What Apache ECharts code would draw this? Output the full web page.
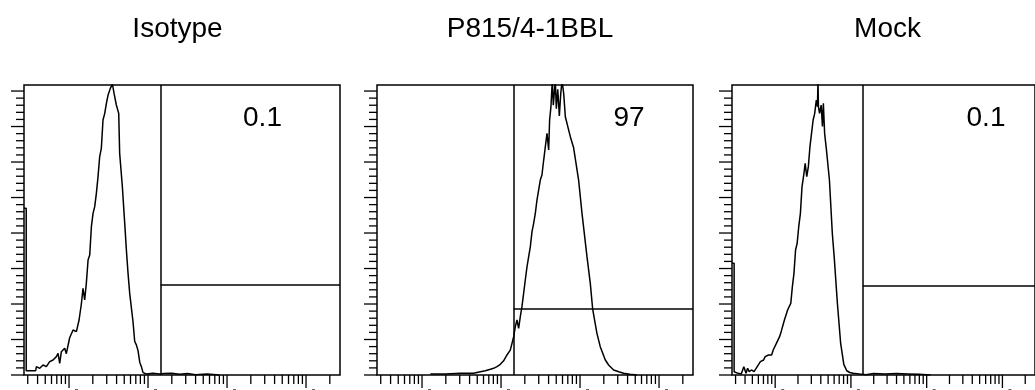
<!DOCTYPE html>
<html><head><meta charset="utf-8">
<script src="https://cdn.jsdelivr.net/npm/echarts@6/dist/echarts.min.js"></script>
<style>html,body{margin:0;padding:0;background:#fff}#c{width:1035px;height:390px}</style>
</head><body><div id="c"></div>
<script>
// ---- data ----
const panelTitles = ['Isotype', 'P815/4-1BBL', 'Mock'];
const gatePercents = ['0.1', '97', '0.1'];
const gateLog = 2.16;                       // log10 intensity of gate
const markerLevels = [2.535, 1.86, 2.51];   // marker bar heights
const xRange = [0.43, 4.43];                // log10 intensity shown
const yRange = [0, 8.17];
const xMajorTicks = [10, 100, 1000, 10000];
const xMinorTicks = [3,4,5,6,7,8,9, 20,30,40,50,60,70,80,90, 200,300,400,500,600,700,800,900,
                     2000,3000,4000,5000,6000,7000,8000,9000, 20000];
const yMajorTicks = [0,1,2,3,4,5,6,7,8];
const yMinorTicks = [0.2,0.4,0.6,0.8, 1.2,1.4,1.6,1.8, 2.2,2.4,2.6,2.8, 3.2,3.4,3.6,3.8,
                     4.2,4.4,4.6,4.8, 5.2,5.4,5.6,5.8, 6.2,6.4,6.6,6.8, 7.2,7.4,7.6,7.8];

const isotypeHist = [[0.43,4.70],[0.458,4.70],[0.458,0.12],[0.578,0.12],[0.587,0.235],[0.629,0.188],[0.671,0.282],[0.713,0.235],[0.755,0.376],[0.798,0.423],[0.84,0.517],[0.861,0.61],[0.882,0.329],[0.903,0.657],[0.945,0.751],[0.966,0.6],[1.008,1.05],[1.051,1.268],[1.093,1.221],[1.127,1.55],[1.156,2.0],[1.177,2.441],[1.198,2.113],[1.219,2.582],[1.241,3.24],[1.262,3.38],[1.283,4.178],[1.304,4.554],[1.325,4.742],[1.346,5.117],[1.367,5.587],[1.388,6.15],[1.409,6.385],[1.43,7.183],[1.452,7.371],[1.473,7.653],[1.494,7.887],[1.523,8.075],[1.549,8.2],[1.57,7.934],[1.599,7.606],[1.629,7.371],[1.641,6.244],[1.675,5.305],[1.705,4.272],[1.726,3.521],[1.747,2.864],[1.768,2.3],[1.789,1.9],[1.81,1.5],[1.831,0.95],[1.852,0.85],[1.874,0.68],[1.895,0.36],[1.916,0.235],[1.937,0.066],[1.979,0.03],[2.063,0.05],[2.148,0.03],[2.2,0.04],[2.3,0.05],[2.4,0.02],[2.5,0.04],[2.6,0.01],[2.75,0.03],[2.9,0]];

const p815Hist = [[1.105,0.028],[1.3,0.03],[1.484,0.047],[1.653,0.047],[1.738,0.094],[1.801,0.122],[1.865,0.16],[1.906,0.188],[1.949,0.235],[1.991,0.3],[2.033,0.4],[2.075,0.564],[2.117,0.7],[2.139,0.892],[2.16,1.08],[2.181,1.362],[2.202,1.55],[2.223,1.315],[2.244,1.643],[2.265,1.925],[2.286,2.3],[2.307,2.676],[2.329,3.052],[2.371,3.615],[2.392,4.038],[2.413,4.272],[2.434,4.554],[2.455,4.93],[2.476,5.211],[2.497,5.493],[2.518,5.634],[2.54,6.056],[2.561,6.432],[2.582,6.808],[2.603,6.338],[2.615,7.183],[2.632,7.559],[2.649,8.3],[2.662,7.6],[2.687,8.3],[2.7,7.5],[2.718,8.05],[2.738,7.3],[2.755,7.9],[2.772,8.3],[2.793,7.934],[2.814,7.277],[2.835,7.089],[2.877,6.714],[2.919,6.4],[2.982,5.493],[3.025,4.554],[3.088,3.334],[3.13,2.582],[3.16,1.859],[3.214,1.174],[3.256,0.798],[3.32,0.423],[3.362,0.282],[3.425,0.141],[3.49,0.09],[3.552,0.047],[3.63,0.02],[3.721,0]];

const mockHist = [[0.43,3.15],[0.458,3.15],[0.458,0.09],[0.51,0.047],[0.552,0.028],[0.586,0.235],[0.615,0.047],[0.636,0.188],[0.657,0.094],[0.687,0.141],[0.721,0.094],[0.763,0.235],[0.805,0.376],[0.847,0.423],[0.868,0.517],[0.911,0.564],[0.953,0.564],[0.974,0.704],[1.016,0.892],[1.058,1.08],[1.079,1.221],[1.122,1.55],[1.164,1.831],[1.206,2.019],[1.227,2.488],[1.248,2.864],[1.269,3.521],[1.29,3.709],[1.311,4.178],[1.333,4.554],[1.354,5.3],[1.375,5.6],[1.396,5.962],[1.417,5.587],[1.438,5.869],[1.459,6.432],[1.48,6.808],[1.501,7.183],[1.522,7.371],[1.543,7.747],[1.558,7.56],[1.565,8.3],[1.571,7.56],[1.586,7.371],[1.607,7.606],[1.624,7.0],[1.636,7.653],[1.653,6.8],[1.674,6.4],[1.716,5.5],[1.754,4.0],[1.78,3.3],[1.822,2.0],[1.864,0.9],[1.906,0.3],[1.945,0.12],[1.985,0.07],[2.029,0.047],[2.113,0.028],[2.198,0.01],[2.3,0.04],[2.45,0.03],[2.6,0.04],[2.75,0.03],[2.9,0.02],[3.05,0]];

const histograms = [isotypeHist, p815Hist, mockHist];

// ---- layout ----
const gridLefts = [24, 377, 732];
const gridTop = 85, gridW = 316, gridH = 290;
const titleX = [177.5, 530, 887.5], titleY = 29;
const pctX = [262.5, 629, 986], pctY = 118;
const FONT = '"Liberation Sans", Arial, Helvetica, sans-serif';

const xTickData = xMinorTicks.map(v => [Math.log10(v), 0])
  .concat(xMajorTicks.map(v => [Math.log10(v), 1]))
  .filter(d => d[0] >= xRange[0] && d[0] <= xRange[1]);
const yTickData = yMinorTicks.map(v => [v, 0]).concat(yMajorTicks.map(v => [v, 1]));

const grid = [], xAxis = [], yAxis = [], series = [], graphic = [];
histograms.forEach((hist, i) => {
  grid.push({left: gridLefts[i], top: gridTop, width: gridW, height: gridH,
             show: true, borderColor: '#000', borderWidth: 1.5, backgroundColor: 'transparent'});
  xAxis.push({type: 'value', gridIndex: i, min: xRange[0], max: xRange[1], show: false});
  yAxis.push({type: 'value', gridIndex: i, min: yRange[0], max: yRange[1], show: false});
  series.push({
    type: 'line', xAxisIndex: i, yAxisIndex: i, data: hist, showSymbol: false, symbol: 'none',
    lineStyle: {color: '#000', width: 1.5}, clip: true, silent: true, z: 3,
    markLine: {
      symbol: 'none', silent: true, animation: false,
      lineStyle: {color: '#000', width: 1.5, type: 'solid'},
      label: {show: false},
      data: [
        {xAxis: gateLog},
        [{coord: [gateLog, markerLevels[i]]}, {coord: [xRange[1], markerLevels[i]]}]
      ]
    }
  });
  series.push({
    type: 'custom', xAxisIndex: i, yAxisIndex: i, data: xTickData, clip: false, silent: true, z: 4,
    renderItem: (params, api) => {
      const p = api.coord([api.value(0), yRange[0]]);
      const major = api.value(1) === 1;
      const len = major ? 13 : 9;
      const children = [{type: 'line', shape: {x1: p[0], y1: p[1], x2: p[0], y2: p[1] + len},
                         style: {stroke: '#000', lineWidth: 1.3}}];
      if (major) children.push({type: 'line', shape: {x1: p[0] + 6, y1: p[1] + 14.5, x2: p[0] + 9, y2: p[1] + 14.5},
                                style: {stroke: '#666', lineWidth: 1}});
      return {type: 'group', children};
    }
  });
  series.push({
    type: 'custom', xAxisIndex: i, yAxisIndex: i, data: yTickData, clip: false, silent: true, z: 4,
    renderItem: (params, api) => {
      const p = api.coord([xRange[0], api.value(0)]);
      const len = api.value(1) === 1 ? 13 : 8;
      return {type: 'line', shape: {x1: p[0] - len, y1: p[1], x2: p[0], y2: p[1]},
              style: {stroke: '#000', lineWidth: 1.3}};
    }
  });
  graphic.push({type: 'text', x: titleX[i], y: titleY, silent: true,
    style: {text: panelTitles[i], font: '28px ' + FONT, fill: '#000',
            align: 'center', verticalAlign: 'middle', textAlign: 'center', textVerticalAlign: 'middle'}});
  graphic.push({type: 'text', x: pctX[i], y: pctY, silent: true,
    style: {text: gatePercents[i], font: '28px ' + FONT, fill: '#000',
            align: 'center', verticalAlign: 'middle', textAlign: 'center', textVerticalAlign: 'middle'}});
});

const chart = echarts.init(document.getElementById('c'), null, {renderer: 'canvas'});
chart.setOption({animation: false, backgroundColor: '#fff', grid, xAxis, yAxis, series, graphic});
</script>
</body></html>
